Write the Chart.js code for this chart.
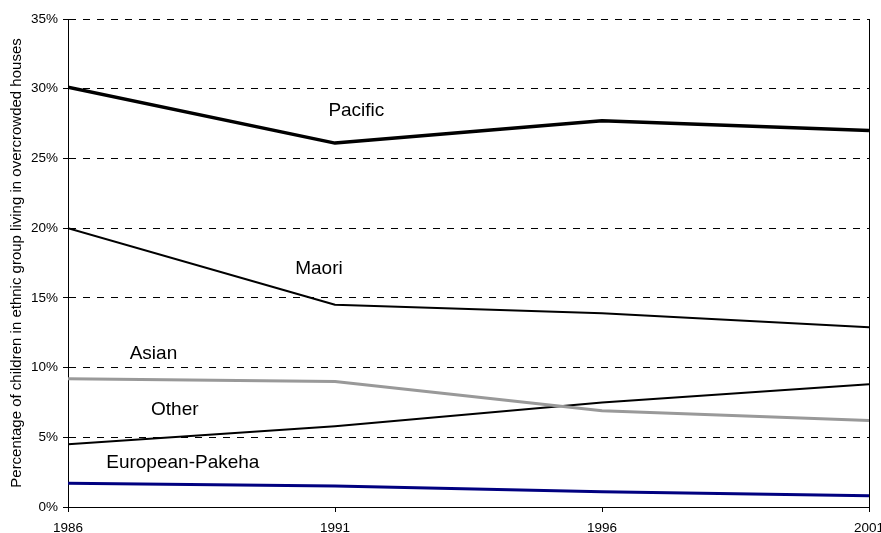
<!DOCTYPE html>
<html>
<head>
<meta charset="utf-8">
<script src="https://cdn.jsdelivr.net/npm/chart.js@4/dist/chart.umd.min.js"></script>
<style>
  html, body { margin: 0; padding: 0; background: #fff; }
  canvas { display: block; }
</style>
</head>
<body>
<canvas id="chart" width="881" height="533"></canvas>
<script>
// Census years
const years = [1986, 1991, 1996, 2001];

// Share of children in each ethnic group living in overcrowded houses (%)
const pacific  = [30.1, 26.1, 27.7, 27.0];
const maori    = [20.0, 14.5, 13.9, 12.9];
const asian    = [9.2, 9.0, 6.9, 6.2];
const other    = [4.5, 5.8, 7.5, 8.8];
const european = [1.7, 1.5, 1.1, 0.8];

// Y-axis ticks (%)
const yTicks = [0, 5, 10, 15, 20, 25, 30, 35];

// Series names written beside their lines: [text, year position, value position]
const seriesNames = [
  ['Pacific', 1991.4, 28.4],
  ['Maori', 1990.7, 17.1],
  ['Asian', 1987.6, 11.0],
  ['Other', 1988.0, 7.0],
  ['European-Pakeha', 1988.15, 3.2]
];

const FONT = '"Liberation Sans", Arial, sans-serif';

function series(values) {
  return values.map((v, i) => ({ x: years[i], y: v }));
}

const inlineNames = {
  id: 'inlineNames',
  afterDatasetsDraw(chart) {
    const { ctx, scales: { x, y } } = chart;
    ctx.save();
    ctx.font = '19px ' + FONT;
    ctx.fillStyle = '#000';
    ctx.textAlign = 'center';
    ctx.textBaseline = 'middle';
    seriesNames.forEach(([text, px, py]) => {
      ctx.fillText(text, x.getPixelForValue(px), y.getPixelForValue(py));
    });
    ctx.restore();
  }
};

new Chart(document.getElementById('chart'), {
  type: 'line',
  data: {
    datasets: [
      { label: 'Pacific', data: series(pacific), borderColor: '#000', borderWidth: 3.5 },
      { label: 'Maori', data: series(maori), borderColor: '#000', borderWidth: 2 },
      { label: 'Asian', data: series(asian), borderColor: '#999', borderWidth: 3 },
      { label: 'Other', data: series(other), borderColor: '#000', borderWidth: 2 },
      { label: 'European-Pakeha', data: series(european), borderColor: '#000080', borderWidth: 3 }
    ]
  },
  options: {
    responsive: false,
    animation: false,
    events: [],
    layout: { padding: { left: 0, top: 19, right: 12, bottom: 0 } },
    elements: {
      point: { radius: 0 },
      line: { tension: 0, fill: false, borderJoinStyle: 'round', borderCapStyle: 'butt' }
    },
    plugins: {
      legend: { display: false },
      tooltip: { enabled: false }
    },
    scales: {
      x: {
        type: 'linear',
        min: years[0],
        max: years[years.length - 1],
        afterBuildTicks(scale) { scale.ticks = years.map(v => ({ value: v })); },
        afterFit(scale) { scale.height = 26; scale.paddingLeft = 0; scale.paddingRight = 0; },
        ticks: {
          color: '#000',
          font: { family: FONT, size: 13.5 },
          padding: 8,
          maxRotation: 0,
          callback: v => String(v)
        },
        grid: {
          drawOnChartArea: true,
          color: c => (c.index === years.length - 1 ? '#000' : 'rgba(0,0,0,0)'),
          lineWidth: 1,
          drawTicks: true,
          tickLength: 5,
          tickColor: '#000'
        },
        border: { display: true, color: '#000', width: 1 }
      },
      y: {
        type: 'linear',
        min: yTicks[0],
        max: yTicks[yTicks.length - 1],
        afterBuildTicks(scale) { scale.ticks = yTicks.map(v => ({ value: v })); },
        afterFit(scale) { scale.width = 68; scale.paddingTop = 0; scale.paddingBottom = 0; },
        ticks: {
          color: '#000',
          font: { family: FONT, size: 13.5 },
          padding: 5,
          callback: v => v + '%'
        },
        grid: {
          color: '#000',
          lineWidth: 1,
          drawTicks: true,
          tickLength: 5,
          tickColor: '#000'
        },
        border: { display: true, color: '#000', width: 1, dash: [7, 7] },
        title: {
          display: true,
          text: 'Percentage of children in ethnic group living in overcrowded houses',
          color: '#000',
          font: { family: FONT, size: 15 },
          padding: { top: 8, bottom: 0 }
        }
      }
    }
  },
  plugins: [inlineNames]
});
</script>
</body>
</html>
